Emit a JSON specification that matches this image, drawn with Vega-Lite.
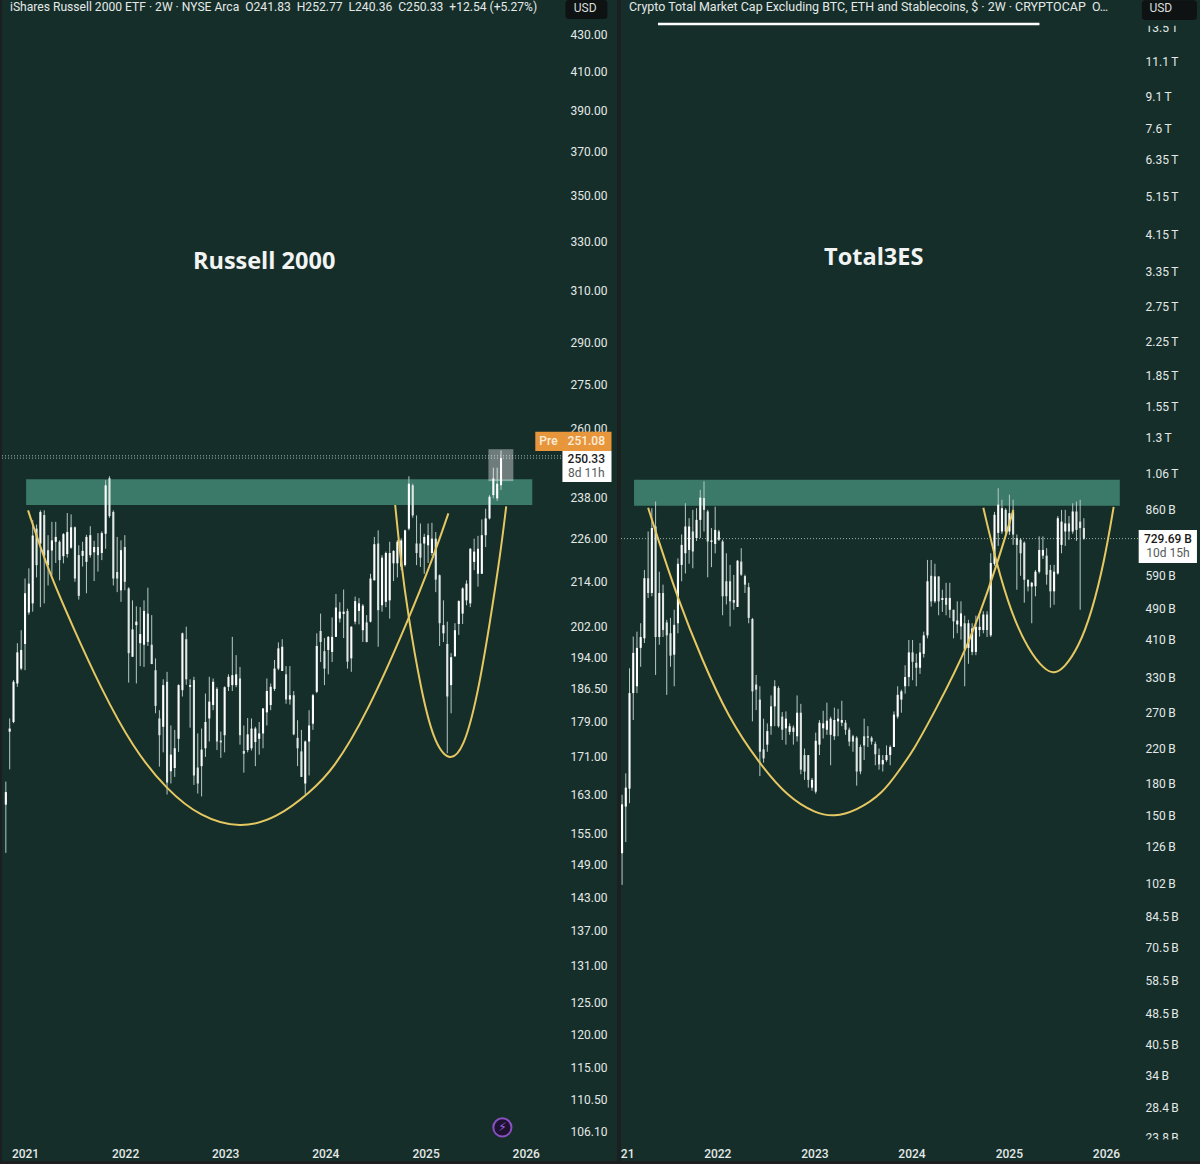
{"$schema":"https://vega.github.io/schema/vega-lite/v6.json","background":"#1c1f1f","padding":{"left":1,"top":0,"right":0,"bottom":3},"spacing":3,"config":{"view":{"stroke":null,"fill":"#152e2a"},"font":"Roboto","scale":{"continuousPadding":0},"axis":{"title":null,"grid":false}},
"datasets":{"russell":[
{"d":"2020-10-23","o":160.9,"h":165.7,"l":151.3,"c":163.5},{"d":"2020-11-06","o":176.6,"h":179.6,"l":168.3,"c":177.3},{"d":"2020-11-20","o":178.8,"h":188.6,"l":178.5,"c":188.2},{"d":"2020-12-04","o":187.8,"h":197.7,"l":187,"c":195.4},{"d":"2020-12-18","o":191.4,"h":201,"l":191,"c":196},
{"d":"2021-01-01","o":197.5,"h":214.7,"l":191,"c":210.7},{"d":"2021-01-15","o":205.6,"h":217.5,"l":205,"c":213.3},{"d":"2021-01-29","o":208,"h":231.3,"l":205.8,"c":226.8},{"d":"2021-02-12","o":228.8,"h":230,"l":215,"c":218.4},{"d":"2021-02-26","o":224.5,"h":234.2,"l":207,"c":233.7},{"d":"2021-03-12","o":232.8,"h":234.2,"l":208,"c":221},{"d":"2021-03-26","o":222.6,"h":226.9,"l":212.8,"c":218.4},{"d":"2021-04-09","o":222.5,"h":230.8,"l":215.6,"c":225.4},{"d":"2021-04-23","o":225,"h":230.8,"l":219,"c":226.4},{"d":"2021-05-07","o":225,"h":225.4,"l":214.2,"c":219.8},{"d":"2021-05-21","o":220.9,"h":227.5,"l":218.9,"c":227.2},{"d":"2021-06-04","o":221.5,"h":233.4,"l":220.5,"c":227.8},{"d":"2021-06-18","o":223.3,"h":233,"l":223,"c":229.2},{"d":"2021-07-02","o":229.2,"h":229.4,"l":213.8,"c":214.7},{"d":"2021-07-16","o":221.2,"h":224,"l":209,"c":210},{"d":"2021-07-30","o":221,"h":225,"l":218,"c":222.4},{"d":"2021-08-13","o":219.3,"h":227,"l":210.7,"c":226.4},{"d":"2021-08-27","o":221.2,"h":229.5,"l":220.5,"c":226.9},{"d":"2021-09-10","o":222,"h":225.3,"l":214,"c":223.5},{"d":"2021-09-24","o":223.5,"h":227.5,"l":216.6,"c":221.2},{"d":"2021-10-08","o":221.8,"h":228,"l":219.8,"c":227.5},{"d":"2021-10-22","o":227.3,"h":243.4,"l":223,"c":241.8},{"d":"2021-11-05","o":244,"h":244.6,"l":232,"c":232.5},{"d":"2021-11-19","o":233.7,"h":234.2,"l":212.8,"c":214.7},{"d":"2021-12-03","o":216.5,"h":226.4,"l":211,"c":214.7},{"d":"2021-12-17","o":211.5,"h":225.4,"l":208.4,"c":222.6},{"d":"2021-12-31","o":223.5,"h":226.9,"l":211.5,"c":213.8},
{"d":"2022-01-14","o":212,"h":212.3,"l":188,"c":195.2},{"d":"2022-01-28","o":194.3,"h":208.8,"l":194.3,"c":201.2},{"d":"2022-02-11","o":202.3,"h":207.2,"l":187.8,"c":203.2},{"d":"2022-02-25","o":197.7,"h":207,"l":192,"c":200},{"d":"2022-03-11","o":197.3,"h":208.8,"l":191.8,"c":206},{"d":"2022-03-25","o":205.3,"h":212.2,"l":197,"c":198},{"d":"2022-04-08","o":197.3,"h":204.9,"l":192.5,"c":192.5},{"d":"2022-04-22","o":191,"h":193.9,"l":180.8,"c":182.5},{"d":"2022-05-06","o":179.6,"h":181.5,"l":168.9,"c":175.8},{"d":"2022-05-20","o":177.7,"h":188.8,"l":172,"c":187.4},{"d":"2022-06-03","o":188.2,"h":190.6,"l":163,"c":165.5},{"d":"2022-06-17","o":167.9,"h":178,"l":165.3,"c":171.5},{"d":"2022-07-01","o":168.6,"h":177,"l":166.7,"c":172.9},{"d":"2022-07-15","o":175,"h":187.6,"l":172.1,"c":187.4},{"d":"2022-07-29","o":186.2,"h":200.4,"l":184.7,"c":200.2},{"d":"2022-08-12","o":198.7,"h":201.9,"l":187.5,"c":188.8},{"d":"2022-08-26","o":187,"h":188.8,"l":177.5,"c":187.4},{"d":"2022-09-09","o":188.6,"h":189.4,"l":165,"c":167},{"d":"2022-09-23","o":168.7,"h":176.2,"l":163.2,"c":165.3},{"d":"2022-10-07","o":169,"h":177.3,"l":162.6,"c":172.6},{"d":"2022-10-21","o":172.9,"h":185.4,"l":171,"c":178.8},{"d":"2022-11-04","o":179.6,"h":189.4,"l":174.4,"c":183.5},{"d":"2022-11-18","o":182.7,"h":189,"l":181.5,"c":188.2},{"d":"2022-12-02","o":186.5,"h":186.9,"l":172.5,"c":174.4},{"d":"2022-12-16","o":174.6,"h":176.6,"l":170.8,"c":174.2},{"d":"2022-12-30","o":175.8,"h":187.1,"l":172,"c":186.9},
{"d":"2023-01-13","o":187,"h":190,"l":186,"c":189.4},{"d":"2023-01-27","o":187.4,"h":199.3,"l":186,"c":189.8},{"d":"2023-02-10","o":187.4,"h":194.7,"l":186.9,"c":190},{"d":"2023-02-24","o":189,"h":191.8,"l":173.7,"c":175.8},{"d":"2023-03-10","o":172.3,"h":178,"l":167.6,"c":171.7},{"d":"2023-03-24","o":172.5,"h":179.7,"l":172,"c":176},{"d":"2023-04-07","o":172.9,"h":179.6,"l":172.4,"c":177.3},{"d":"2023-04-21","o":174.3,"h":177.7,"l":169,"c":177.3},{"d":"2023-05-05","o":175,"h":178.8,"l":171.5,"c":176.2},{"d":"2023-05-19","o":176.2,"h":182,"l":172.9,"c":181.9},{"d":"2023-06-02","o":181,"h":189,"l":178,"c":186},{"d":"2023-06-16","o":182.7,"h":187.8,"l":181.5,"c":187},{"d":"2023-06-30","o":186.5,"h":193.5,"l":186,"c":191.4},{"d":"2023-07-14","o":191.4,"h":197.9,"l":191,"c":196.4},{"d":"2023-07-28","o":190.8,"h":198.7,"l":190.8,"c":196.8},{"d":"2023-08-11","o":190,"h":192,"l":183,"c":184},{"d":"2023-08-25","o":184,"h":192,"l":182.8,"c":185},{"d":"2023-09-08","o":185,"h":186,"l":175.8,"c":176},{"d":"2023-09-22","o":175.2,"h":179.2,"l":169,"c":172.9},{"d":"2023-10-06","o":172.2,"h":177,"l":166.7,"c":166.7},{"d":"2023-10-20","o":165.3,"h":174.6,"l":163,"c":174.4},{"d":"2023-11-03","o":174.4,"h":181.5,"l":167,"c":178},{"d":"2023-11-17","o":178.4,"h":185.3,"l":177,"c":185},{"d":"2023-12-01","o":185.8,"h":200.2,"l":185.5,"c":197},{"d":"2023-12-15","o":200.8,"h":205.3,"l":193,"c":198},{"d":"2023-12-29","o":195.7,"h":199,"l":187.4,"c":191.4},
{"d":"2024-01-12","o":196,"h":199.5,"l":190,"c":199.3},{"d":"2024-01-26","o":195.5,"h":204.3,"l":193,"c":199.3},{"d":"2024-02-09","o":199.3,"h":210.5,"l":199.3,"c":206.9},{"d":"2024-02-23","o":204,"h":208.3,"l":203,"c":205.8},{"d":"2024-03-08","o":205.2,"h":211.7,"l":199,"c":205.8},{"d":"2024-03-22","o":206,"h":206.6,"l":191.4,"c":193.1},{"d":"2024-04-05","o":193.9,"h":202,"l":190.6,"c":201.9},{"d":"2024-04-19","o":203.2,"h":209.8,"l":202.5,"c":208.6},{"d":"2024-05-03","o":206,"h":209.4,"l":202.5,"c":208},{"d":"2024-05-17","o":201,"h":207.8,"l":198,"c":207.4},{"d":"2024-05-31","o":203,"h":204.9,"l":197.9,"c":198},{"d":"2024-06-14","o":203.2,"h":216,"l":203,"c":214.7},{"d":"2024-06-28","o":214.2,"h":226.4,"l":214.2,"c":224.3},{"d":"2024-07-12","o":224.5,"h":228.3,"l":196.8,"c":206.2},{"d":"2024-07-26","o":207.5,"h":221.2,"l":205.8,"c":220.5},{"d":"2024-08-09","o":208.4,"h":222.2,"l":207,"c":221.8},{"d":"2024-08-23","o":208.8,"h":225,"l":204,"c":221.8},{"d":"2024-09-06","o":218.9,"h":222.6,"l":214,"c":222.4},{"d":"2024-09-20","o":218.9,"h":225.5,"l":215,"c":225},{"d":"2024-10-04","o":218,"h":226,"l":217,"c":225.4},{"d":"2024-10-18","o":218.4,"h":228.5,"l":218,"c":228.3},{"d":"2024-11-01","o":228.8,"h":244.6,"l":228.3,"c":242.3},{"d":"2024-11-15","o":241.8,"h":242.3,"l":232,"c":232.7},{"d":"2024-11-29","o":224.5,"h":232.7,"l":218.4,"c":221.8},{"d":"2024-12-13","o":224.5,"h":230.3,"l":217.9,"c":220.5},{"d":"2024-12-27","o":224.5,"h":227.3,"l":216,"c":226.4},
{"d":"2025-01-10","o":224,"h":230.3,"l":219,"c":226.9},{"d":"2025-01-24","o":221.8,"h":230.5,"l":221,"c":225.9},{"d":"2025-02-07","o":225.9,"h":227.8,"l":211,"c":214.4},{"d":"2025-02-21","o":215.6,"h":215.8,"l":197,"c":202.8},{"d":"2025-03-07","o":200.2,"h":208.8,"l":198,"c":202.3},{"d":"2025-03-21","o":197.5,"h":203.2,"l":171.8,"c":184.7},{"d":"2025-04-04","o":187.4,"h":195.2,"l":180.8,"c":194.2},{"d":"2025-04-18","o":194.4,"h":202.8,"l":194.4,"c":201},{"d":"2025-05-02","o":202.6,"h":208.8,"l":199.8,"c":208.6},{"d":"2025-05-16","o":205.3,"h":212.3,"l":202.6,"c":212},{"d":"2025-05-30","o":208.8,"h":214.2,"l":207.5,"c":213.3},{"d":"2025-06-13","o":208,"h":223.2,"l":207,"c":223},{"d":"2025-06-27","o":219.3,"h":225.9,"l":217,"c":222.2},{"d":"2025-07-11","o":216,"h":226.7,"l":212.5,"c":223},{"d":"2025-07-25","o":216,"h":231.5,"l":216,"c":226.9},{"d":"2025-08-08","o":226.9,"h":234.7,"l":223.5,"c":231.8},{"d":"2025-08-22","o":231.8,"h":238.8,"l":231.5,"c":238.3},{"d":"2025-09-05","o":238.8,"h":247.3,"l":237.8,"c":243.9},{"d":"2025-09-19","o":237.8,"h":247.3,"l":237,"c":242.3},{"d":"2025-10-03","o":241.83,"h":252.77,"l":240.36,"c":250.33}],
"total":[
{"d":"2021-01-08","o":121,"h":169,"l":101,"c":160},{"d":"2021-01-22","o":158,"h":191,"l":129,"c":176},{"d":"2021-02-05","o":175,"h":348,"l":161,"c":302},{"d":"2021-02-19","o":302,"h":417,"l":259,"c":380},{"d":"2021-03-05","o":314,"h":429,"l":302,"c":391},{"d":"2021-03-19","o":391,"h":450,"l":351,"c":416},{"d":"2021-04-02","o":413,"h":610,"l":402,"c":582},{"d":"2021-04-16","o":582,"h":760,"l":520,"c":535},{"d":"2021-04-30","o":535,"h":868,"l":525,"c":775},{"d":"2021-05-14","o":782,"h":902,"l":335,"c":416},{"d":"2021-05-28","o":416,"h":604,"l":398,"c":535},{"d":"2021-06-11","o":535,"h":561,"l":416,"c":433},{"d":"2021-06-25","o":452,"h":459,"l":299,"c":420},{"d":"2021-07-09","o":425,"h":464,"l":351,"c":374},{"d":"2021-07-23","o":376,"h":486,"l":314,"c":446},{"d":"2021-08-06","o":450,"h":652,"l":425,"c":632},{"d":"2021-08-20","o":628,"h":747,"l":572,"c":704},{"d":"2021-09-03","o":671,"h":893,"l":598,"c":782},{"d":"2021-09-17","o":684,"h":820,"l":632,"c":782},{"d":"2021-10-01","o":760,"h":860,"l":616,"c":678},{"d":"2021-10-15","o":732,"h":868,"l":720,"c":812},{"d":"2021-10-29","o":812,"h":964,"l":732,"c":922},{"d":"2021-11-12","o":920,"h":1012,"l":760,"c":860},{"d":"2021-11-26","o":852,"h":860,"l":585,"c":718},{"d":"2021-12-10","o":716,"h":775,"l":620,"c":722},{"d":"2021-12-24","o":708,"h":876,"l":671,"c":767},
{"d":"2022-01-07","o":760,"h":767,"l":720,"c":725},{"d":"2022-01-21","o":718,"h":725,"l":471,"c":525},{"d":"2022-02-04","o":572,"h":671,"l":501,"c":525},{"d":"2022-02-18","o":572,"h":628,"l":442,"c":510},{"d":"2022-03-04","o":514,"h":593,"l":486,"c":506},{"d":"2022-03-18","o":494,"h":646,"l":494,"c":643},{"d":"2022-04-01","o":640,"h":691,"l":590,"c":594},{"d":"2022-04-15","o":589,"h":594,"l":535,"c":561},{"d":"2022-04-29","o":553,"h":567,"l":450,"c":464},{"d":"2022-05-13","o":461,"h":464,"l":257,"c":305},{"d":"2022-05-27","o":317,"h":335,"l":274,"c":308},{"d":"2022-06-10","o":291,"h":314,"l":188,"c":216},{"d":"2022-06-24","o":219,"h":261,"l":203,"c":208},{"d":"2022-07-08","o":225,"h":254,"l":216,"c":243},{"d":"2022-07-22","o":250,"h":298,"l":238,"c":280},{"d":"2022-08-05","o":280,"h":325,"l":250,"c":314},{"d":"2022-08-19","o":311,"h":314,"l":248,"c":250},{"d":"2022-09-02","o":264,"h":271,"l":231,"c":245},{"d":"2022-09-16","o":247,"h":272,"l":225,"c":261},{"d":"2022-09-30","o":242,"h":254,"l":238,"c":250},{"d":"2022-10-14","o":248,"h":251,"l":225,"c":242},{"d":"2022-10-28","o":236,"h":298,"l":229,"c":270},{"d":"2022-11-11","o":270,"h":284,"l":190,"c":195},{"d":"2022-11-25","o":212,"h":220,"l":184,"c":193},{"d":"2022-12-09","o":212,"h":212,"l":176,"c":184},{"d":"2022-12-23","o":176,"h":186,"l":173,"c":184},
{"d":"2023-01-06","o":172,"h":241,"l":170,"c":230},{"d":"2023-01-20","o":225,"h":259,"l":212,"c":255},{"d":"2023-02-03","o":247,"h":273,"l":233,"c":254},{"d":"2023-02-17","o":245,"h":286,"l":238,"c":258},{"d":"2023-03-03","o":238,"h":264,"l":200,"c":261},{"d":"2023-03-17","o":236,"h":278,"l":231,"c":259},{"d":"2023-03-31","o":257,"h":276,"l":236,"c":261},{"d":"2023-04-14","o":255,"h":289,"l":250,"c":259},{"d":"2023-04-28","o":255,"h":259,"l":238,"c":245},{"d":"2023-05-12","o":245,"h":248,"l":223,"c":229},{"d":"2023-05-26","o":236,"h":238,"l":216,"c":229},{"d":"2023-06-09","o":234,"h":236,"l":178,"c":193},{"d":"2023-06-23","o":222,"h":225,"l":190,"c":193},{"d":"2023-07-07","o":236,"h":261,"l":206,"c":224},{"d":"2023-07-21","o":236,"h":250,"l":222,"c":234},{"d":"2023-08-04","o":234,"h":236,"l":225,"c":229},{"d":"2023-08-18","o":226,"h":229,"l":200,"c":213},{"d":"2023-09-01","o":212,"h":220,"l":195,"c":201},{"d":"2023-09-15","o":201,"h":212,"l":193,"c":206},{"d":"2023-09-29","o":206,"h":224,"l":204,"c":212},{"d":"2023-10-13","o":212,"h":224,"l":200,"c":222},{"d":"2023-10-27","o":222,"h":272,"l":222,"c":267},{"d":"2023-11-10","o":264,"h":314,"l":261,"c":299},{"d":"2023-11-24","o":291,"h":308,"l":270,"c":305},{"d":"2023-12-08","o":314,"h":354,"l":301,"c":331},{"d":"2023-12-22","o":331,"h":409,"l":314,"c":381},
{"d":"2024-01-05","o":381,"h":409,"l":325,"c":361},{"d":"2024-01-19","o":359,"h":378,"l":314,"c":349},{"d":"2024-02-02","o":349,"h":402,"l":337,"c":381},{"d":"2024-02-16","o":378,"h":429,"l":370,"c":420},{"d":"2024-03-01","o":420,"h":646,"l":413,"c":572},{"d":"2024-03-15","o":590,"h":646,"l":495,"c":510},{"d":"2024-03-29","o":510,"h":632,"l":505,"c":588},{"d":"2024-04-12","o":588,"h":588,"l":471,"c":510},{"d":"2024-04-26","o":514,"h":545,"l":480,"c":520},{"d":"2024-05-10","o":520,"h":567,"l":471,"c":500},{"d":"2024-05-24","o":486,"h":567,"l":464,"c":520},{"d":"2024-06-07","o":486,"h":486,"l":413,"c":455},{"d":"2024-06-21","o":447,"h":510,"l":425,"c":457},{"d":"2024-07-05","o":442,"h":510,"l":410,"c":476},{"d":"2024-07-19","o":450,"h":470,"l":314,"c":387},{"d":"2024-08-02","o":391,"h":459,"l":357,"c":450},{"d":"2024-08-16","o":382,"h":450,"l":375,"c":437},{"d":"2024-08-30","o":382,"h":470,"l":375,"c":441},{"d":"2024-09-13","o":433,"h":473,"l":417,"c":441},{"d":"2024-09-27","o":433,"h":482,"l":425,"c":473},{"d":"2024-10-11","o":473,"h":482,"l":416,"c":433},{"d":"2024-10-25","o":420,"h":671,"l":416,"c":635},{"d":"2024-11-08","o":632,"h":850,"l":625,"c":836},{"d":"2024-11-22","o":754,"h":973,"l":700,"c":886},{"d":"2024-12-06","o":760,"h":911,"l":750,"c":868},{"d":"2024-12-20","o":860,"h":868,"l":745,"c":760},
{"d":"2025-01-03","o":760,"h":938,"l":745,"c":844},{"d":"2025-01-17","o":852,"h":911,"l":704,"c":747},{"d":"2025-01-31","o":732,"h":747,"l":545,"c":704},{"d":"2025-02-14","o":725,"h":732,"l":590,"c":671},{"d":"2025-02-28","o":713,"h":718,"l":506,"c":577},{"d":"2025-03-14","o":577,"h":577,"l":540,"c":555},{"d":"2025-03-28","o":555,"h":570,"l":450,"c":567},{"d":"2025-04-11","o":556,"h":610,"l":525,"c":604},{"d":"2025-04-25","o":604,"h":739,"l":598,"c":684},{"d":"2025-05-09","o":662,"h":739,"l":650,"c":684},{"d":"2025-05-23","o":662,"h":691,"l":561,"c":594},{"d":"2025-06-06","o":610,"h":628,"l":492,"c":540},{"d":"2025-06-20","o":540,"h":628,"l":500,"c":604},{"d":"2025-07-04","o":598,"h":830,"l":594,"c":820},{"d":"2025-07-18","o":704,"h":860,"l":671,"c":804},{"d":"2025-08-01","o":760,"h":860,"l":700,"c":796},{"d":"2025-08-15","o":796,"h":830,"l":725,"c":760},{"d":"2025-08-29","o":760,"h":893,"l":750,"c":852},{"d":"2025-09-12","o":852,"h":902,"l":720,"c":767},{"d":"2025-09-26","o":804,"h":911,"l":486,"c":775},{"d":"2025-10-10","o":775,"h":820,"l":725,"c":729.69}]},
"hconcat":[
{"width":615,"height":1161,"layer":[
{"data":{"values":[{"a":"2021-01-05","b":"2026-01-25","lo":235.8,"hi":243.7}]},"mark":{"type":"rect","color":"#3b7a69"},"encoding":{"x":{"field":"a","type":"temporal","title":null,"scale":{"domain":["2020-10-09","2026-11-30"],"nice":false},"axis":{"orient":"bottom","offset":-13,"domain":false,"ticks":false,"grid":false,"title":null,"labelPadding":0,"labelColor":"#e4e9e7","labelFontSize":12,"labelFontWeight":500,"labelFont":"Roboto","labelOverlap":false,"labelFlush":false,"labelBound":false,"format":"%Y","values":[{"year":2021,"month":1,"date":1},{"year":2022,"month":1,"date":1},{"year":2023,"month":1,"date":1},{"year":2024,"month":1,"date":1},{"year":2025,"month":1,"date":1},{"year":2026,"month":1,"date":1}]}},"x2":{"field":"b"},"y":{"field":"lo","type":"quantitative","title":null,"scale":{"type":"log","domain":[102.13,449.06],"nice":false},"axis":{"orient":"right","offset":-47,"domain":false,"ticks":false,"grid":false,"title":null,"labelPadding":0,"labelColor":"#e4e9e7","labelFontSize":12,"labelFont":"Roboto","labelOverlap":false,"labelFlush":false,"labelBound":false,"format":".2f","values":[430,410,390,370,350,330,310,290,275,260,238,226,214,202,194,186.5,179,171,163,155,149,143,137,131,125,120,115,110.5,106.1]}},"y2":{"field":"hi"}}},
{"data":{"values":[{"a":"2020-10-09","b":"2026-05-15","v":250.33},{"a":"2020-10-09","b":"2026-05-15","v":251.08}]},"mark":{"type":"rule","color":"#9fb5a8","strokeDash":[1,2],"strokeWidth":1},"encoding":{"x":{"field":"a","type":"temporal"},"x2":{"field":"b"},"y":{"field":"v","type":"quantitative"}}},
{"data":{"name":"russell"},"mark":{"type":"rule","color":"#b8c8c4","strokeWidth":1},"encoding":{"x":{"field":"d","type":"temporal"},"y":{"field":"l","type":"quantitative"},"y2":{"field":"h"}}},
{"data":{"name":"russell"},"mark":{"type":"bar","size":2.1},"encoding":{"x":{"field":"d","type":"temporal"},"y":{"field":"o","type":"quantitative"},"y2":{"field":"c"},"color":{"condition":{"test":"datum.c>=datum.o","value":"#ffffff"},"value":"#dfe7e5"}}},
{"data":{"values":[{"a":"2025-08-18","b":"2025-11-17","lo":243.1,"hi":253.2}]},"mark":{"type":"rect","color":"#ffffff","opacity":0.38},"encoding":{"x":{"field":"a","type":"temporal"},"x2":{"field":"b"},"y":{"field":"lo","type":"quantitative"},"y2":{"field":"hi"}}},
{"data":{"values":[{"d":"2021-01-12","v":234.2},{"d":"2021-03-26","v":217},{"d":"2021-06-25","v":201.8},{"d":"2021-10-02","v":187},{"d":"2022-01-30","v":172.9},{"d":"2022-06-03","v":163.9},{"d":"2022-10-02","v":158.4},{"d":"2023-02-25","v":156},{"d":"2023-07-10","v":158.2},{"d":"2023-11-07","v":163.5},{"d":"2024-01-30","v":168.2},{"d":"2024-06-02","v":180.8},{"d":"2024-10-30","v":203.6},{"d":"2025-01-29","v":220.6},{"d":"2025-03-25","v":233.3}]},"mark":{"type":"line","color":"#e6c862","strokeWidth":2,"interpolate":"basis"},"encoding":{"x":{"field":"d","type":"temporal"},"y":{"field":"v","type":"quantitative"}}},
{"data":{"values":[{"d":"2024-09-12","v":235.8},{"d":"2024-10-01","v":220.6},{"d":"2024-10-30","v":204.4},{"d":"2024-12-13","v":187},{"d":"2025-01-29","v":174.5},{"d":"2025-03-28","v":169.8},{"d":"2025-05-19","v":172.6},{"d":"2025-07-09","v":184.6},{"d":"2025-08-25","v":203.6},{"d":"2025-10-01","v":221.7},{"d":"2025-10-22","v":235.4}]},"mark":{"type":"line","color":"#e6c862","strokeWidth":2,"interpolate":"basis"},"encoding":{"x":{"field":"d","type":"temporal"},"y":{"field":"v","type":"quantitative"}}},
{"data":{"values":[{"a":"2026-05-15","b":"2026-11-10","lo":242.8,"hi":252.6}]},"mark":{"type":"rect","color":"#ffffff"},"encoding":{"x":{"field":"a","type":"temporal"},"x2":{"field":"b"},"y":{"field":"lo","type":"quantitative"},"y2":{"field":"hi"}}},
{"data":{"values":[{"a":"2026-02-05","b":"2026-11-10","lo":252.6,"hi":258.9}]},"mark":{"type":"rect","color":"#e8963c"},"encoding":{"x":{"field":"a","type":"temporal"},"x2":{"field":"b"},"y":{"field":"lo","type":"quantitative"},"y2":{"field":"hi"}}},
{"data":{"values":[{"a":"2026-05-26","b":"2026-10-26","lo":438.3,"hi":449}]},"mark":{"type":"rect","color":"#0f1212","cornerRadius":3},"encoding":{"x":{"field":"a","type":"temporal"},"x2":{"field":"b"},"y":{"field":"lo","type":"quantitative"},"y2":{"field":"hi"}}},
{"data":{"values":[{"d":"2025-10-08","v":106.6}]},"mark":{"type":"point","filled":true,"size":330,"fill":"#1d1330","stroke":"#8a4fc0","strokeWidth":2,"opacity":1,"shape":"circle"},"encoding":{"x":{"field":"d","type":"temporal"},"y":{"field":"v","type":"quantitative"}}},
{"data":{"values":[{"d":"2025-10-08","v":106.6,"t":"⚡"}]},"mark":{"type":"text","color":"#a465e6","fontSize":12,"font":"DejaVu Sans"},"encoding":{"x":{"field":"d","type":"temporal"},"y":{"field":"v","type":"quantitative"},"text":{"field":"t"}}},
{"data":{"values":[{"d":"2023-05-23","v":321.3,"t":"Russell 2000"}]},"mark":{"type":"text","color":"#f2f4f3","fontSize":23.5,"fontWeight":"bold","font":"Open Sans"},"encoding":{"x":{"field":"d","type":"temporal"},"y":{"field":"v","type":"quantitative"},"text":{"field":"t"}}},
{"data":{"values":[{"d":"2020-11-07","v":445.1,"t":"iShares Russell 2000 ETF · 2W · NYSE Arca \u00a0O241.83 \u00a0H252.77 \u00a0L240.36 \u00a0C250.33 \u00a0+12.54 (+5.27%)"}]},"mark":{"type":"text","color":"#e4e9e7","fontSize":12.1,"align":"left","font":"Roboto"},"encoding":{"x":{"field":"d","type":"temporal"},"y":{"field":"v","type":"quantitative"},"text":{"field":"t"}}},
{"data":{"values":[{"d":"2026-08-06","v":444.5,"t":"USD"}]},"mark":{"type":"text","color":"#d8dddc","fontSize":12,"font":"Roboto"},"encoding":{"x":{"field":"d","type":"temporal"},"y":{"field":"v","type":"quantitative"},"text":{"field":"t"}}},
{"data":{"values":[{"d":"2026-03-25","v":255.9,"t":"Pre"},{"d":"2026-08-10","v":255.9,"t":"251.08"}]},"mark":{"type":"text","color":"#fdeedb","fontSize":12,"fontWeight":500,"font":"Roboto"},"encoding":{"x":{"field":"d","type":"temporal"},"y":{"field":"v","type":"quantitative"},"text":{"field":"t"}}},
{"data":{"values":[{"d":"2026-08-10","v":250,"t":"250.33"}]},"mark":{"type":"text","color":"#1a1a1a","fontSize":12,"fontWeight":500,"font":"Roboto"},"encoding":{"x":{"field":"d","type":"temporal"},"y":{"field":"v","type":"quantitative"},"text":{"field":"t"}}},
{"data":{"values":[{"d":"2026-08-10","v":245.5,"t":"8d 11h"}]},"mark":{"type":"text","color":"#555a5a","fontSize":12,"font":"Roboto"},"encoding":{"x":{"field":"d","type":"temporal"},"y":{"field":"v","type":"quantitative"},"text":{"field":"t"}}}
]},
{"width":581,"height":1161,"layer":[
{"data":{"values":[{"a":"2021-02-22","b":"2026-02-22","lo":880,"hi":1021}]},"mark":{"type":"rect","color":"#3b7a69"},"encoding":{"x":{"field":"a","type":"temporal","title":null,"scale":{"domain":["2021-01-04","2026-12-28"],"nice":false},"axis":{"orient":"bottom","offset":-13,"domain":false,"ticks":false,"grid":false,"title":null,"labelPadding":0,"labelColor":"#e4e9e7","labelFontSize":12,"labelFontWeight":500,"labelFont":"Roboto","labelOverlap":false,"labelFlush":false,"labelBound":false,"labelExpr":"year(datum.value)==2021 ? '21' : timeFormat(datum.value,'%Y')","values":[{"year":2021,"month":1,"date":27},{"year":2022,"month":1,"date":1},{"year":2023,"month":1,"date":1},{"year":2024,"month":1,"date":1},{"year":2025,"month":1,"date":1},{"year":2026,"month":1,"date":1}]}},"x2":{"field":"b"},"y":{"field":"lo","type":"quantitative","title":null,"scale":{"type":"log","domain":[20.87,15813],"nice":false},"axis":{"orient":"right","offset":-57,"domain":false,"ticks":false,"grid":false,"title":null,"labelPadding":0,"labelColor":"#e4e9e7","labelFontSize":12,"labelFont":"Roboto","labelOverlap":false,"labelFlush":false,"labelBound":false,"labelExpr":"datum.value>=1000 ? (datum.value/1000)+'\u2009T' : datum.value+'\u2009B'","values":[13500,11100,9100,7600,6350,5150,4150,3350,2750,2250,1850,1550,1300,1060,860,590,490,410,330,270,220,180,150,126,102,84.5,70.5,58.5,48.5,40.5,34,28.4,23.8]}},"y2":{"field":"hi"}}},
{"data":{"values":[{"a":"2021-01-04","b":"2026-05-04","v":729.69}]},"mark":{"type":"rule","color":"#9fb5a8","strokeDash":[1,2],"strokeWidth":1},"encoding":{"x":{"field":"a","type":"temporal"},"x2":{"field":"b"},"y":{"field":"v","type":"quantitative"}}},
{"data":{"name":"total"},"mark":{"type":"rule","color":"#b8c8c4","strokeWidth":1},"encoding":{"x":{"field":"d","type":"temporal"},"y":{"field":"l","type":"quantitative"},"y2":{"field":"h"}}},
{"data":{"name":"total"},"mark":{"type":"bar","size":2.1},"encoding":{"x":{"field":"d","type":"temporal"},"y":{"field":"o","type":"quantitative"},"y2":{"field":"c"},"color":{"condition":{"test":"datum.c>=datum.o","value":"#ffffff"},"value":"#dfe7e5"}}},
{"data":{"values":[{"d":"2021-04-16","v":870},{"d":"2021-05-12","v":767},{"d":"2021-08-07","v":514},{"d":"2021-11-05","v":365},{"d":"2022-02-11","v":263},{"d":"2022-06-05","v":203},{"d":"2022-09-26","v":166},{"d":"2023-01-06","v":152},{"d":"2023-03-15","v":149},{"d":"2023-06-06","v":154},{"d":"2023-09-15","v":170},{"d":"2023-11-22","v":197},{"d":"2024-01-07","v":217},{"d":"2024-03-26","v":270},{"d":"2024-08-01","v":393},{"d":"2024-11-15","v":620},{"d":"2025-01-18","v":860}]},"mark":{"type":"line","color":"#e6c862","strokeWidth":2,"interpolate":"basis"},"encoding":{"x":{"field":"d","type":"temporal"},"y":{"field":"v","type":"quantitative"}}},
{"data":{"values":[{"d":"2024-09-27","v":870},{"d":"2024-11-15","v":634},{"d":"2025-01-10","v":477},{"d":"2025-03-15","v":387},{"d":"2025-05-15","v":345},{"d":"2025-06-21","v":337},{"d":"2025-07-29","v":349},{"d":"2025-09-20","v":393},{"d":"2025-11-08","v":477},{"d":"2025-12-27","v":646},{"d":"2026-01-30","v":875}]},"mark":{"type":"line","color":"#e6c862","strokeWidth":2,"interpolate":"basis"},"encoding":{"x":{"field":"d","type":"temporal"},"y":{"field":"v","type":"quantitative"}}},
{"data":{"values":[{"a":"2026-03-01","b":"2026-12-28","lo":20.87,"hi":23.6},{"a":"2026-03-01","b":"2026-12-28","lo":13660,"hi":15813}]},"mark":{"type":"rect","color":"#152e2a"},"encoding":{"x":{"field":"a","type":"temporal"},"x2":{"field":"b"},"y":{"field":"lo","type":"quantitative"},"y2":{"field":"hi"}}},
{"data":{"values":[{"a":"2021-05-23","b":"2025-04-26","v":13790}]},"mark":{"type":"rule","color":"#ffffff","strokeWidth":2.5},"encoding":{"x":{"field":"a","type":"temporal"},"x2":{"field":"b"},"y":{"field":"v","type":"quantitative"}}},
{"data":{"values":[{"a":"2026-05-04","b":"2026-12-09","lo":635,"hi":767}]},"mark":{"type":"rect","color":"#ffffff"},"encoding":{"x":{"field":"a","type":"temporal"},"x2":{"field":"b"},"y":{"field":"lo","type":"quantitative"},"y2":{"field":"hi"}}},
{"data":{"values":[{"a":"2026-05-16","b":"2026-12-09","lo":14100,"hi":15800}]},"mark":{"type":"rect","color":"#0f1212","cornerRadius":3},"encoding":{"x":{"field":"a","type":"temporal"},"x2":{"field":"b"},"y":{"field":"lo","type":"quantitative"},"y2":{"field":"hi"}}},
{"data":{"values":[{"d":"2023-08-12","v":3623,"t":"Total3ES"}]},"mark":{"type":"text","color":"#f2f4f3","fontSize":23.5,"fontWeight":"bold","font":"Open Sans"},"encoding":{"x":{"field":"d","type":"temporal"},"y":{"field":"v","type":"quantitative"},"text":{"field":"t"}}},
{"data":{"values":[{"d":"2021-02-03","v":15198,"t":"Crypto Total Market Cap Excluding BTC, ETH and Stablecoins, $ · 2W · CRYPTOCAP \u00a0O…"}]},"mark":{"type":"text","color":"#e4e9e7","fontSize":12.45,"align":"left","font":"Roboto"},"encoding":{"x":{"field":"d","type":"temporal"},"y":{"field":"v","type":"quantitative"},"text":{"field":"t"}}},
{"data":{"values":[{"d":"2026-07-26","v":15120,"t":"USD"}]},"mark":{"type":"text","color":"#d8dddc","fontSize":12,"font":"Roboto"},"encoding":{"x":{"field":"d","type":"temporal"},"y":{"field":"v","type":"quantitative"},"text":{"field":"t"}}},
{"data":{"values":[{"d":"2026-08-22","v":729.7,"t":"729.69 B"}]},"mark":{"type":"text","color":"#1a1a1a","fontSize":12,"fontWeight":500,"font":"Roboto"},"encoding":{"x":{"field":"d","type":"temporal"},"y":{"field":"v","type":"quantitative"},"text":{"field":"t"}}},
{"data":{"values":[{"d":"2026-08-22","v":673,"t":"10d 15h"}]},"mark":{"type":"text","color":"#555a5a","fontSize":12,"font":"Roboto"},"encoding":{"x":{"field":"d","type":"temporal"},"y":{"field":"v","type":"quantitative"},"text":{"field":"t"}}}
]}
]}
